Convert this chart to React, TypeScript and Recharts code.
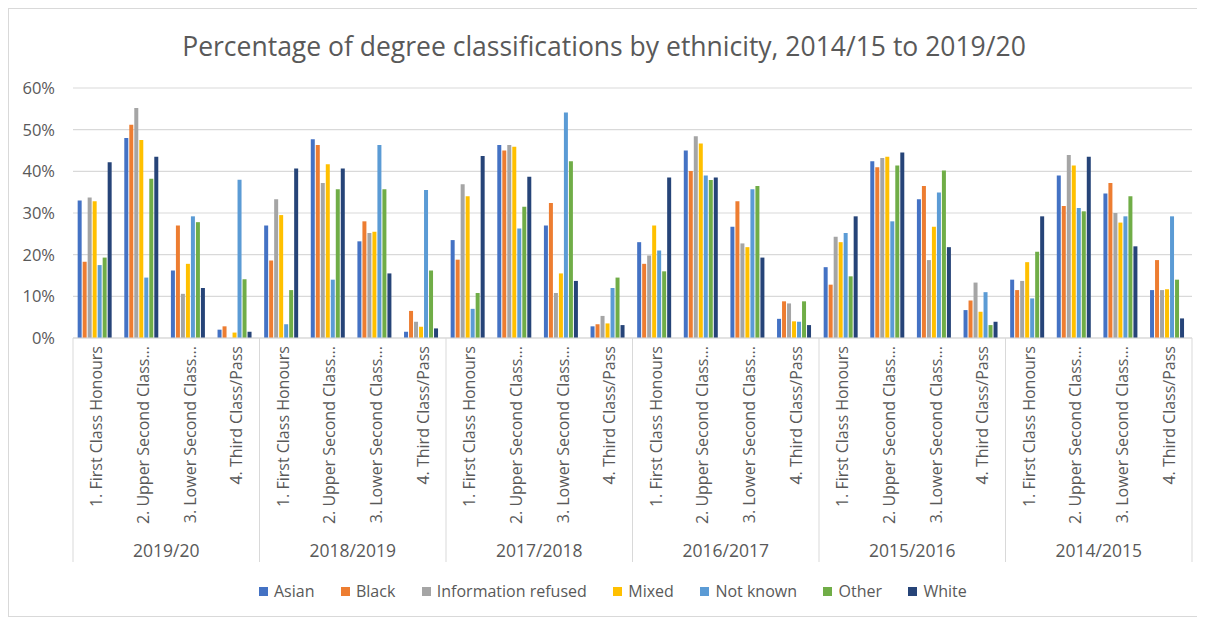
import React from "react";
import { BarChart, Bar, XAxis, YAxis, CartesianGrid } from "recharts";

const years = ["2019/20", "2018/2019", "2017/2018", "2016/2017", "2015/2016", "2014/2015"];
const classes = ["1. First Class Honours", "2. Upper Second Class...", "3. Lower Second Class...", "4. Third Class/Pass"];
const yTicks = [0, 10, 20, 30, 40, 50, 60];

const asian = [33.0, 48.0, 16.2, 2.0, 27.0, 47.7, 23.2, 1.5, 23.5, 46.3, 27.0, 2.8, 23.0, 45.0, 26.7, 4.6, 17.0, 42.4, 33.3, 6.7, 14.0, 39.0, 34.7, 11.5];
const black = [18.3, 51.2, 27.0, 2.8, 18.6, 46.3, 28.0, 6.5, 18.8, 45.0, 32.4, 3.3, 17.8, 40.1, 32.8, 8.8, 12.8, 41.0, 36.5, 9.0, 11.5, 31.7, 37.2, 18.7];
const infoRefused = [33.7, 55.2, 10.6, 0, 33.3, 37.2, 25.2, 3.9, 36.9, 46.3, 10.8, 5.3, 19.8, 48.4, 22.7, 8.3, 24.3, 43.2, 18.7, 13.3, 13.7, 43.9, 30.0, 11.5];
const mixed = [32.8, 47.5, 17.8, 1.3, 29.5, 41.7, 25.5, 2.7, 34.0, 45.9, 15.5, 3.5, 27.0, 46.7, 21.8, 4.0, 23.0, 43.5, 26.7, 6.3, 18.2, 41.4, 27.7, 11.7];
const notKnown = [17.5, 14.5, 29.2, 38.0, 3.3, 14.0, 46.3, 35.5, 7.0, 26.3, 54.1, 12.0, 21.0, 39.0, 35.7, 3.9, 25.2, 28.0, 34.9, 11.0, 9.5, 31.2, 29.2, 29.2];
const other = [19.3, 38.2, 27.8, 14.1, 11.5, 35.7, 35.7, 16.2, 10.8, 31.5, 42.4, 14.5, 16.0, 37.9, 36.5, 8.8, 14.8, 41.4, 40.2, 3.1, 20.7, 30.4, 34.0, 14.0];
const white = [42.2, 43.5, 12.0, 1.5, 40.7, 40.7, 15.5, 2.3, 43.7, 38.7, 13.7, 3.1, 38.5, 38.5, 19.3, 3.1, 29.2, 44.5, 21.8, 3.9, 29.2, 43.5, 22.0, 4.7];

const series = [
  { key: "Asian", values: asian, color: "#4472C4" },
  { key: "Black", values: black, color: "#ED7D31" },
  { key: "Information refused", values: infoRefused, color: "#A5A5A5" },
  { key: "Mixed", values: mixed, color: "#FFC000" },
  { key: "Not known", values: notKnown, color: "#5B9BD5" },
  { key: "Other", values: other, color: "#70AD47" },
  { key: "White", values: white, color: "#264478" },
];

const data = years.flatMap((year, yi) =>
  classes.map((cls, ci) => {
    const idx = yi * classes.length + ci;
    const row: Record<string, any> = { id: `${year}|${cls}`, year, cls };
    series.forEach((s) => {
      row[s.key] = s.values[idx];
    });
    return row;
  })
);

const FONT = "'Open Sans', 'Noto Sans', sans-serif";
const TEXT = "#595959";
const GRID = "#d9d9d9";
const CHART_W = 1190;
const CHART_H = 607;
const MARGIN = { top: 79, right: 7, left: 0, bottom: 45 };
const Y_W = 64;
const PLOT_W = CHART_W - MARGIN.left - MARGIN.right - Y_W;
const BAND = PLOT_W / data.length;

const CatTick = (props: any) => {
  const { x, y, payload } = props;
  const index = payload.index;
  const row = data[index];
  const parts: React.ReactNode[] = [];
  parts.push(
    <text
      key="t"
      transform={`translate(${x},${y + 8}) rotate(-90)`}
      textAnchor="end"
      dominantBaseline="central"
      fontSize={16}
      fill={TEXT}
      fontFamily={FONT}
    >
      {row.cls}
    </text>
  );
  if (index % classes.length === 0) {
    parts.push(<line key="l" x1={x - BAND / 2} x2={x - BAND / 2} y1={y} y2={y + 224} stroke={GRID} strokeWidth={1} />);
    parts.push(
      <text
        key="y"
        x={x + BAND * 1.5}
        y={y + 212}
        textAnchor="middle"
        dominantBaseline="central"
        fontSize={17.5}
        fill={TEXT}
        fontFamily={FONT}
      >
        {row.year}
      </text>
    );
  }
  if (index === data.length - 1) {
    parts.push(<line key="r" x1={x + BAND / 2} x2={x + BAND / 2} y1={y} y2={y + 224} stroke={GRID} strokeWidth={1} />);
  }
  return <g>{parts}</g>;
};

export default function App() {
  return (
    <div
      style={{
        position: "relative",
        width: CHART_W + 2,
        height: CHART_H + 2,
        boxSizing: "border-box",
        border: `1px solid ${GRID}`,
        fontFamily: FONT,
        background: "#fff",
      }}
    >
      <div
        style={{
          position: "absolute",
          top: 20,
          left: 0,
          width: CHART_W,
          textAlign: "center",
          fontSize: 26.5,
          color: TEXT,
          lineHeight: "34px",
        }}
      >
        Percentage of degree classifications by ethnicity, 2014/15 to 2019/20
      </div>
      <BarChart
        width={CHART_W}
        height={CHART_H}
        data={data}
        margin={MARGIN}
        barCategoryGap="10%"
        barGap={1}
      >
        <CartesianGrid vertical={false} stroke={GRID} strokeWidth={1.2} />
        <YAxis
          width={Y_W}
          domain={[0, 60]}
          ticks={yTicks}
          tickFormatter={(v: number) => `${v}%`}
          axisLine={false}
          tickLine={false}
          tickSize={0}
          tickMargin={18}
          tick={{ fontSize: 16.5, fill: TEXT, fontFamily: FONT }}
          interval={0}
        />
        <XAxis
          dataKey="id"
          interval={0}
          height={233}
          tickLine={false}
          tickSize={0}
          tickMargin={0}
          axisLine={{ stroke: GRID }}
          tick={<CatTick />}
        />
        {series.map((s) => (
          <Bar key={s.key} dataKey={s.key} fill={s.color} isAnimationActive={false} />
        ))}
      </BarChart>
      <div
        style={{
          position: "absolute",
          top: 571,
          left: 250,
          display: "flex",
          alignItems: "center",
          fontSize: 16,
          color: TEXT,
          lineHeight: "22px",
          whiteSpace: "nowrap",
        }}
      >
        {series.map((s) => (
          <div key={s.key} style={{ display: "flex", alignItems: "center", marginRight: 26.5 }}>
            <span style={{ display: "inline-block", width: 9, height: 9, background: s.color, marginRight: 6 }} />
            <span>{s.key}</span>
          </div>
        ))}
      </div>
    </div>
  );
}
